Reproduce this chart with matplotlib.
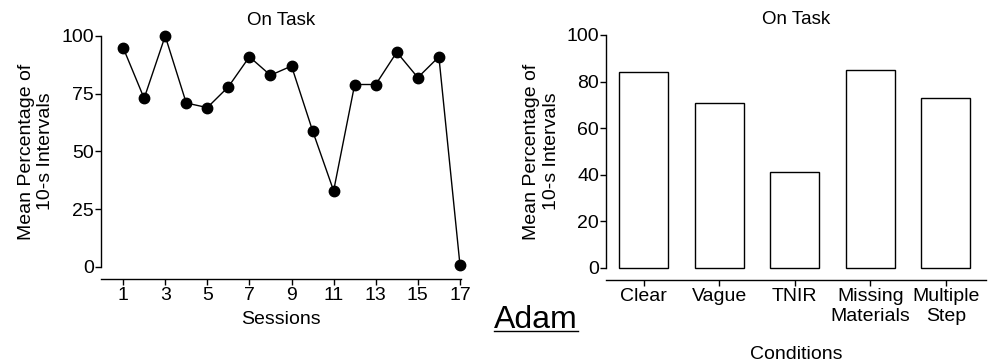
import matplotlib
matplotlib.use("Agg")
import matplotlib.pyplot as plt
from matplotlib.lines import Line2D

plt.rcParams["font.family"] = ["Liberation Sans", "DejaVu Sans"]

# session data (left panel)
sessions = list(range(1, 18))
on_task = [95, 73, 100, 71, 69, 78, 91, 83, 87, 59, 33, 79, 79, 93, 82, 91, 1]
session_ticks = list(range(1, 18, 2))
line_yticks = [0, 25, 50, 75, 100]

# condition means (right panel)
conditions = ["Clear", "Vague", "TNIR", "Missing\nMaterials", "Multiple\nStep"]
cond_means = [84, 71, 41, 85, 73]
bar_yticks = [0, 20, 40, 60, 80, 100]

ylab = "Mean Percentage of\n10-s Intervals"

fig = plt.figure(figsize=(9.88, 3.64), dpi=100)

ax1 = fig.add_axes([0.1022, 0.2665, 0.3644, 0.6346])
ax1.plot(sessions, on_task, "k-", lw=1, marker="o", ms=7.5, clip_on=False)
ax1.set_xlim(-0.05, 17.05)
ax1.set_ylim(0, 100)
ax1.set_xticks(session_ticks)
ax1.set_yticks(line_yticks)
ax1.set_xlabel("Sessions", fontsize=14, labelpad=5)
ax1.set_ylabel(ylab, fontsize=14, labelpad=5)
ax1.set_title("On Task", fontsize=13.5, pad=8)

ax2 = fig.add_axes([0.6134, 0.2638, 0.3844, 0.6401])
ax2.bar(range(len(conditions)), cond_means, width=0.65, color="white",
        edgecolor="black", lw=1, clip_on=False)
ax2.set_xlim(-0.5, 4.53)
ax2.set_ylim(0, 100)
ax2.set_xticks(range(len(conditions)))
ax2.set_xticklabels(conditions, linespacing=1.0)
ax2.set_yticks(bar_yticks)
ax2.set_xlabel("Conditions", fontsize=14, labelpad=15)
ax2.set_ylabel(ylab, fontsize=14, labelpad=5)
ax2.set_title("On Task", fontsize=13.5, pad=8)

for ax in (ax1, ax2):
    ax.spines["top"].set_visible(False)
    ax.spines["right"].set_visible(False)
    ax.spines["bottom"].set_position(("outward", 9))
    ax.tick_params(direction="out", length=4, width=1, labelsize=14, pad=1)
    ax.tick_params(axis="x", pad=1.5)
    for sp in ax.spines.values():
        sp.set_linewidth(1)

adam = fig.text(0.5, 0.1, "Adam", fontsize=23, ha="left", va="baseline")
fig.canvas.draw()
bb = adam.get_window_extent().transformed(fig.transFigure.inverted())
fig.add_artist(Line2D([bb.x0, bb.x1], [0.092, 0.092], color="black", lw=1,
                      transform=fig.transFigure))

fig.savefig("out.png", dpi=100)
